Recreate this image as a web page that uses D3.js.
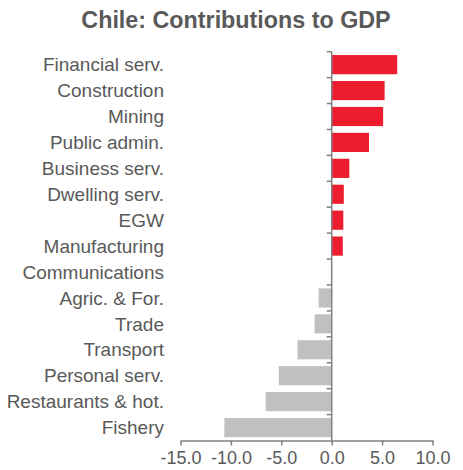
<!DOCTYPE html>
<html>
<head>
<meta charset="utf-8">
<script src="https://cdn.jsdelivr.net/npm/d3@7"></script>
<style>
  html, body { margin: 0; padding: 0; background: #fff; }
  svg { display: block; font-family: "Liberation Sans", Arial, sans-serif; }
</style>
</head>
<body>
<svg id="chart" width="463" height="470"></svg>
<script>
// Sector contributions to GDP growth, top to bottom
const sectors = [
  "Financial serv.", "Construction", "Mining", "Public admin.", "Business serv.",
  "Dwelling serv.", "EGW", "Manufacturing", "Communications", "Agric. & For.",
  "Trade", "Transport", "Personal serv.", "Restaurants & hot.", "Fishery"
];
const contributions = [6.5, 5.25, 5.1, 3.7, 1.75, 1.2, 1.15, 1.1, 0.0, -1.3, -1.7, -3.4, -5.25, -6.55, -10.65];
const xTicks = [-15, -10, -5, 0, 5, 10];

const positiveColor = "#ed1c2e";
const negativeColor = "#c0c0c0";
const axisColor = "#808080";
const textColor = "#595959";

const svg = d3.select("#chart");

const x = d3.scaleLinear().domain([-15, 10]).range([180.5, 432.5]);
const y = d3.scaleBand().domain(sectors).range([51.7, 440.5]).paddingInner(0.26).paddingOuter(0.13);

svg.append("text")
  .attr("x", 236).attr("y", 28)
  .attr("text-anchor", "middle")
  .attr("font-size", 23.3).attr("font-weight", "bold")
  .attr("fill", textColor)
  .text("Chile: Contributions to GDP");

// Bars
svg.append("g").selectAll("rect")
  .data(sectors.map((s, i) => ({ s, v: contributions[i] })))
  .join("rect")
  .attr("x", d => x(Math.min(0, d.v)))
  .attr("width", d => Math.abs(x(d.v) - x(0)))
  .attr("y", d => y(d.s))
  .attr("height", y.bandwidth())
  .attr("fill", d => d.v >= 0 ? positiveColor : negativeColor);

// Category labels
svg.append("g").selectAll("text")
  .data(sectors)
  .join("text")
  .attr("x", 164)
  .attr("y", d => y(d) + y.bandwidth() / 2)
  .attr("dy", "0.35em")
  .attr("text-anchor", "end")
  .attr("font-size", 19)
  .attr("fill", textColor)
  .text(d => d);

// Vertical axis at zero with category boundary ticks
const bounds = d3.range(sectors.length + 1).map(i => 51.7 + i * (440.5 - 51.7) / sectors.length);
const vAxis = svg.append("g").attr("stroke", axisColor).attr("stroke-width", 1.5);
vAxis.append("line")
  .attr("x1", x(0)).attr("x2", x(0))
  .attr("y1", bounds[0]).attr("y2", bounds[bounds.length - 1]);
vAxis.selectAll("line.tick")
  .data(bounds.slice(0, -1))
  .join("line").attr("class", "tick")
  .attr("x1", x(0) - 5).attr("x2", x(0))
  .attr("y1", d => d).attr("y2", d => d);

// Horizontal value axis
const xAxis = d3.axisBottom(x)
  .tickValues(xTicks)
  .tickFormat(d3.format(".1f"))
  .tickSize(5)
  .tickSizeOuter(0)
  .tickPadding(6);
const gx = svg.append("g")
  .attr("transform", `translate(0,${bounds[bounds.length - 1]})`)
  .call(xAxis);
gx.select(".domain").attr("stroke", axisColor).attr("stroke-width", 1.5);
gx.selectAll(".tick line").attr("stroke", axisColor).attr("stroke-width", 1.5);
gx.selectAll(".tick text")
  .attr("font-size", 18)
  .attr("font-family", "Liberation Sans, Arial, sans-serif")
  .attr("fill", textColor)
  .text(d => d3.format(".1f")(d).replace("−", "-"));
</script>
</body>
</html>
